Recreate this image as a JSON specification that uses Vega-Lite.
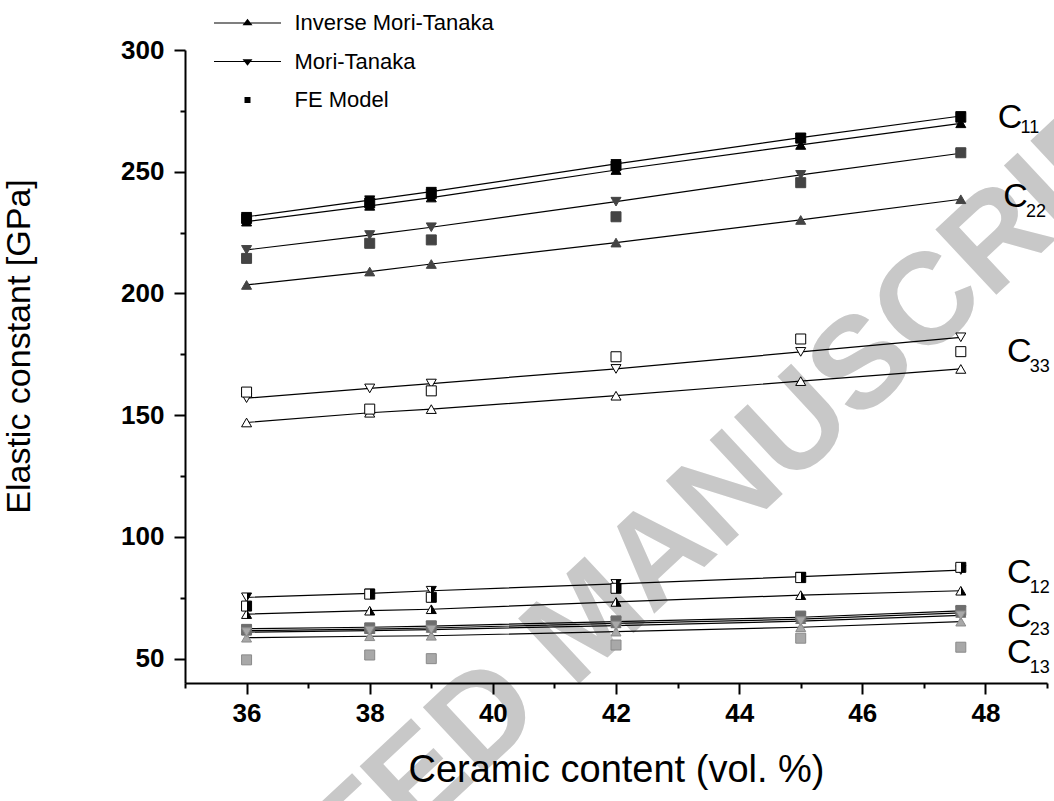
{
  "$schema": "https://vega.github.io/schema/vega-lite/v6.json",
  "autosize": {"type": "none"},
  "width": 862,
  "height": 633,
  "padding": {"left": 185, "top": 50, "right": 7, "bottom": 118},
  "background": "white",
  "config": {
    "view": {"stroke": null},
    "font": "Liberation Sans",
    "legend": {
      "orient": "none",
      "legendX": 51.5,
      "legendY": -38,
      "symbolSize": 100,
      "labelFont": "Liberation Sans",
      "labelFontSize": 22,
      "labelColor": "black",
      "labelLimit": 0,
      "rowPadding": 16.5,
      "labelOffset": 36,
      "symbolFillColor": "black",
      "symbolStrokeColor": "black",
      "symbolStrokeWidth": 0,
      "padding": 0,
      "offset": 0
    }
  },
  "datasets": {
    "pts": [
      {"c": "C11", "m": "IMT", "x": 36, "v": 229.5}, {"c": "C11", "m": "IMT", "x": 38, "v": 236.0}, {"c": "C11", "m": "IMT", "x": 39, "v": 239.4}, {"c": "C11", "m": "IMT", "x": 42, "v": 250.7}, {"c": "C11", "m": "IMT", "x": 45, "v": 261.0}, {"c": "C11", "m": "IMT", "x": 47.6, "v": 269.9},
      {"c": "C11", "m": "MT", "x": 36, "v": 231.5}, {"c": "C11", "m": "MT", "x": 38, "v": 238.3}, {"c": "C11", "m": "MT", "x": 39, "v": 241.8}, {"c": "C11", "m": "MT", "x": 42, "v": 253.2}, {"c": "C11", "m": "MT", "x": 45, "v": 264.0}, {"c": "C11", "m": "MT", "x": 47.6, "v": 272.9},
      {"c": "C11", "m": "FE", "x": 36, "v": 230.8}, {"c": "C11", "m": "FE", "x": 38, "v": 237.2}, {"c": "C11", "m": "FE", "x": 39, "v": 241.0}, {"c": "C11", "m": "FE", "x": 42, "v": 252.5}, {"c": "C11", "m": "FE", "x": 45, "v": 263.8}, {"c": "C11", "m": "FE", "x": 47.6, "v": 272.4},
      {"c": "C22", "m": "IMT", "x": 36, "v": 203.5}, {"c": "C22", "m": "IMT", "x": 38, "v": 209.0}, {"c": "C22", "m": "IMT", "x": 39, "v": 212.1}, {"c": "C22", "m": "IMT", "x": 42, "v": 220.9}, {"c": "C22", "m": "IMT", "x": 45, "v": 230.2}, {"c": "C22", "m": "IMT", "x": 47.6, "v": 238.7},
      {"c": "C22", "m": "MT", "x": 36, "v": 217.9}, {"c": "C22", "m": "MT", "x": 38, "v": 224.0}, {"c": "C22", "m": "MT", "x": 39, "v": 227.2}, {"c": "C22", "m": "MT", "x": 42, "v": 237.7}, {"c": "C22", "m": "MT", "x": 45, "v": 248.7}, {"c": "C22", "m": "MT", "x": 47.6, "v": 257.6},
      {"c": "C22", "m": "FE", "x": 36, "v": 214.4}, {"c": "C22", "m": "FE", "x": 38, "v": 220.6}, {"c": "C22", "m": "FE", "x": 39, "v": 222.0}, {"c": "C22", "m": "FE", "x": 42, "v": 231.5}, {"c": "C22", "m": "FE", "x": 45, "v": 245.5}, {"c": "C22", "m": "FE", "x": 47.6, "v": 257.8},
      {"c": "C33", "m": "IMT", "x": 36, "v": 147.0}, {"c": "C33", "m": "IMT", "x": 38, "v": 151.0}, {"c": "C33", "m": "IMT", "x": 39, "v": 152.5}, {"c": "C33", "m": "IMT", "x": 42, "v": 158.0}, {"c": "C33", "m": "IMT", "x": 45, "v": 164.0}, {"c": "C33", "m": "IMT", "x": 47.6, "v": 169.0},
      {"c": "C33", "m": "MT", "x": 36, "v": 157.0}, {"c": "C33", "m": "MT", "x": 38, "v": 161.0}, {"c": "C33", "m": "MT", "x": 39, "v": 163.0}, {"c": "C33", "m": "MT", "x": 42, "v": 169.0}, {"c": "C33", "m": "MT", "x": 45, "v": 176.0}, {"c": "C33", "m": "MT", "x": 47.6, "v": 182.0},
      {"c": "C33", "m": "FE", "x": 36, "v": 159.5}, {"c": "C33", "m": "FE", "x": 38, "v": 152.5}, {"c": "C33", "m": "FE", "x": 39, "v": 160.0}, {"c": "C33", "m": "FE", "x": 42, "v": 174.0}, {"c": "C33", "m": "FE", "x": 45, "v": 181.3}, {"c": "C33", "m": "FE", "x": 47.6, "v": 176.1},
      {"c": "C12", "m": "IMT", "x": 36, "v": 68.3}, {"c": "C12", "m": "IMT", "x": 38, "v": 69.7}, {"c": "C12", "m": "IMT", "x": 39, "v": 70.3}, {"c": "C12", "m": "IMT", "x": 42, "v": 73.3}, {"c": "C12", "m": "IMT", "x": 45, "v": 76.1}, {"c": "C12", "m": "IMT", "x": 47.6, "v": 77.9},
      {"c": "C12", "m": "MT", "x": 36, "v": 75.2}, {"c": "C12", "m": "MT", "x": 38, "v": 76.8}, {"c": "C12", "m": "MT", "x": 39, "v": 77.9}, {"c": "C12", "m": "MT", "x": 42, "v": 80.7}, {"c": "C12", "m": "MT", "x": 45, "v": 83.7}, {"c": "C12", "m": "MT", "x": 47.6, "v": 86.4},
      {"c": "C12", "m": "FE", "x": 36, "v": 71.6}, {"c": "C12", "m": "FE", "x": 38, "v": 76.5}, {"c": "C12", "m": "FE", "x": 39, "v": 75.2}, {"c": "C12", "m": "FE", "x": 42, "v": 78.9}, {"c": "C12", "m": "FE", "x": 45, "v": 83.3}, {"c": "C12", "m": "FE", "x": 47.6, "v": 87.5},
      {"c": "C23", "m": "IMT", "x": 36, "v": 61.5}, {"c": "C23", "m": "IMT", "x": 38, "v": 62.1}, {"c": "C23", "m": "IMT", "x": 39, "v": 62.6}, {"c": "C23", "m": "IMT", "x": 42, "v": 64.5}, {"c": "C23", "m": "IMT", "x": 45, "v": 66.2}, {"c": "C23", "m": "IMT", "x": 47.6, "v": 68.8},
      {"c": "C23", "m": "MT", "x": 36, "v": 62.3}, {"c": "C23", "m": "MT", "x": 38, "v": 62.9}, {"c": "C23", "m": "MT", "x": 39, "v": 63.4}, {"c": "C23", "m": "MT", "x": 42, "v": 65.2}, {"c": "C23", "m": "MT", "x": 45, "v": 67.0}, {"c": "C23", "m": "MT", "x": 47.6, "v": 69.6},
      {"c": "C23", "m": "FE", "x": 36, "v": 61.8}, {"c": "C23", "m": "FE", "x": 38, "v": 62.5}, {"c": "C23", "m": "FE", "x": 39, "v": 63.5}, {"c": "C23", "m": "FE", "x": 42, "v": 65.5}, {"c": "C23", "m": "FE", "x": 45, "v": 67.5}, {"c": "C23", "m": "FE", "x": 47.6, "v": 69.8},
      {"c": "C13", "m": "IMT", "x": 36, "v": 58.6}, {"c": "C13", "m": "IMT", "x": 38, "v": 59.2}, {"c": "C13", "m": "IMT", "x": 39, "v": 59.4}, {"c": "C13", "m": "IMT", "x": 42, "v": 61.1}, {"c": "C13", "m": "IMT", "x": 45, "v": 62.9}, {"c": "C13", "m": "IMT", "x": 47.6, "v": 65.2},
      {"c": "C13", "m": "MT", "x": 36, "v": 60.9}, {"c": "C13", "m": "MT", "x": 38, "v": 61.5}, {"c": "C13", "m": "MT", "x": 39, "v": 61.9}, {"c": "C13", "m": "MT", "x": 42, "v": 63.6}, {"c": "C13", "m": "MT", "x": 45, "v": 65.4}, {"c": "C13", "m": "MT", "x": 47.6, "v": 67.8},
      {"c": "C13", "m": "FE", "x": 36, "v": 49.5}, {"c": "C13", "m": "FE", "x": 38, "v": 51.5}, {"c": "C13", "m": "FE", "x": 39, "v": 50.0}, {"c": "C13", "m": "FE", "x": 42, "v": 55.6}, {"c": "C13", "m": "FE", "x": 45, "v": 58.4}, {"c": "C13", "m": "FE", "x": 47.6, "v": 54.7}
    ],
    "labels": [
      {"t": "C", "k": "main", "x": 48.2, "v": 268.0},
      {"t": "11", "k": "sub", "x": 48.57, "v": 265.9},
      {"t": "C", "k": "main", "x": 48.29, "v": 235.5},
      {"t": "22", "k": "sub", "x": 48.66, "v": 231.4},
      {"t": "C", "k": "main", "x": 48.35, "v": 171.9},
      {"t": "33", "k": "sub", "x": 48.72, "v": 167.7},
      {"t": "C", "k": "main", "x": 48.35, "v": 81.1},
      {"t": "12", "k": "sub", "x": 48.72, "v": 77.0},
      {"t": "C", "k": "main", "x": 48.35, "v": 63.0},
      {"t": "23", "k": "sub", "x": 48.72, "v": 59.7},
      {"t": "C", "k": "main", "x": 48.35, "v": 48.2},
      {"t": "13", "k": "sub", "x": 48.72, "v": 44.1}
    ],
    "wm": [
      {"t": "ACCEPTED MANUSCRIPT", "x": 41.55, "v": 65.1}
    ]
  },
  "encoding": {
    "x": {
      "field": "x",
      "type": "quantitative",
      "scale": {"domain": [35, 49], "nice": false, "zero": false},
      "axis": {
        "zindex": 1,
        "title": "Ceramic content (vol. %)",
        "values": [35, 36, 37, 38, 39, 40, 41, 42, 43, 44, 45, 46, 47, 48, 49],
        "labelExpr": "datum.value % 2 === 0 ? datum.label : ''",
        "labelOverlap": false,
        "labelFlush": false,
        "grid": false,
        "domainColor": "black",
        "domainWidth": 2,
        "tickColor": "black",
        "tickWidth": 2,
        "tickSize": {"condition": {"test": "datum.value % 2 === 0", "value": 11}, "value": 5},
        "labelFont": "Liberation Sans",
        "labelFontWeight": "bold",
        "labelFontSize": 26,
        "labelColor": "black",
        "labelPadding": 6,
        "titleFont": "Liberation Sans",
        "titleFontWeight": "normal",
        "titleFontSize": 38,
        "titleColor": "black",
        "titleX": 431,
        "titleY": 98,
        "titleBaseline": "alphabetic",
        "titleAlign": "center"
      }
    },
    "y": {
      "field": "v",
      "type": "quantitative",
      "scale": {"domain": [40, 300], "nice": false, "zero": false},
      "axis": {
        "zindex": 1,
        "title": "Elastic constant [GPa]",
        "values": [50, 75, 100, 125, 150, 175, 200, 225, 250, 275, 300],
        "labelExpr": "datum.value % 50 === 0 ? datum.label : ''",
        "labelOverlap": false,
        "labelFlush": false,
        "grid": false,
        "domainColor": "black",
        "domainWidth": 2,
        "tickColor": "black",
        "tickWidth": 2,
        "tickSize": {"condition": {"test": "datum.value % 50 === 0", "value": 11}, "value": 5},
        "labelFont": "Liberation Sans",
        "labelFontWeight": "bold",
        "labelFontSize": 26,
        "labelColor": "black",
        "labelPadding": 10,
        "titleFont": "Liberation Sans",
        "titleFontWeight": "normal",
        "titleFontSize": 34,
        "titleColor": "black",
        "titleAngle": -90,
        "titleX": -156,
        "titleY": 296,
        "titleBaseline": "alphabetic",
        "titleAlign": "center"
      }
    }
  },
  "layer": [
    {
      "data": {"name": "wm"},
      "mark": {"type": "text", "angle": -43, "fontSize": 130, "fontWeight": "bold", "font": "Liberation Sans", "color": "#c8c8c8", "align": "center", "baseline": "middle"},
      "encoding": {"text": {"field": "t"}}
    },
    {
      "data": {"name": "pts"},
      "transform": [{"filter": "datum.m !== 'FE'"}],
      "mark": {"type": "line", "color": "black", "strokeWidth": 1.2},
      "encoding": {"detail": [{"field": "c"}, {"field": "m"}]}
    },
    {
      "data": {"name": "pts"},
      "transform": [{"filter": "datum.c !== 'C12'"}],
      "mark": {"type": "point", "filled": true, "opacity": 1, "strokeWidth": 1},
      "encoding": {
        "shape": {"field": "m", "type": "nominal", "scale": {"domain": ["IMT", "MT", "FE"], "range": ["triangle-up", "triangle-down", "square"]}, "legend": null},
        "size": {"field": "m", "type": "nominal", "scale": {"domain": ["IMT", "MT", "FE"], "range": [100, 100, 52]}, "legend": null},
        "fill": {"field": "c", "type": "nominal", "scale": {"domain": ["C11", "C22", "C33", "C23", "C13"], "range": ["#000000", "#444444", "#ffffff", "#6e6e6e", "#a8a8a8"]}, "legend": null},
        "stroke": {"field": "c", "type": "nominal", "scale": {"domain": ["C11", "C22", "C33", "C23", "C13"], "range": ["#000000", "#444444", "#000000", "#6e6e6e", "#8a8a8a"]}, "legend": null}
      }
    },
    {
      "data": {"name": "pts"},
      "transform": [{"filter": "datum.c === 'C12'"}],
      "mark": {
        "type": "point", "filled": true, "opacity": 1, "strokeWidth": 1, "stroke": "black",
        "fill": {"gradient": "linear", "x1": 0, "y1": 0, "x2": 1, "y2": 0, "stops": [{"offset": 0, "color": "white"}, {"offset": 0.5, "color": "white"}, {"offset": 0.5, "color": "black"}, {"offset": 1, "color": "black"}]}
      },
      "encoding": {
        "shape": {"field": "m", "type": "nominal", "scale": {"domain": ["IMT", "MT", "FE"], "range": ["triangle-up", "triangle-down", "square"]}, "legend": null},
        "size": {"field": "m", "type": "nominal", "scale": {"domain": ["IMT", "MT", "FE"], "range": [100, 100, 52]}, "legend": null}
      }
    },
    {
      "data": {"name": "pts"},
      "transform": [{"filter": "false"}],
      "mark": {"type": "point", "filled": true, "color": "black", "opacity": 1},
      "encoding": {
        "shape": {
          "field": "m", "type": "nominal",
          "scale": {"domain": ["IMT", "MT", "FE"], "range": [
            "M-6.7,-0.11L6.7,-0.11L6.7,0.11L-6.7,0.11ZM-1,0.45L0,-0.85L1,0.45Z",
            "M-6.7,-0.11L6.7,-0.11L6.7,0.11L-6.7,0.11ZM-1,-0.45L1,-0.45L0,0.85Z",
            "M-0.6,-0.6L0.6,-0.6L0.6,0.6L-0.6,0.6Z"
          ]},
          "legend": {
            "title": null,
            "symbolFillColor": "black",
            "labelExpr": "datum.label === 'IMT' ? 'Inverse Mori-Tanaka' : datum.label === 'MT' ? 'Mori-Tanaka' : 'FE Model'"
          }
        }
      }
    },
    {
      "data": {"name": "labels"},
      "transform": [{"filter": "datum.k === 'main'"}],
      "mark": {"type": "text", "fontSize": 34, "font": "Liberation Sans", "color": "black", "align": "left", "baseline": "alphabetic"},
      "encoding": {"text": {"field": "t"}}
    },
    {
      "data": {"name": "labels"},
      "transform": [{"filter": "datum.k === 'sub'"}],
      "mark": {"type": "text", "fontSize": 18, "font": "Liberation Sans", "color": "black", "align": "left", "baseline": "alphabetic"},
      "encoding": {"text": {"field": "t"}}
    }
  ],
  "resolve": {"scale": {"shape": "independent", "size": "independent"}, "legend": {"shape": "independent"}}
}
